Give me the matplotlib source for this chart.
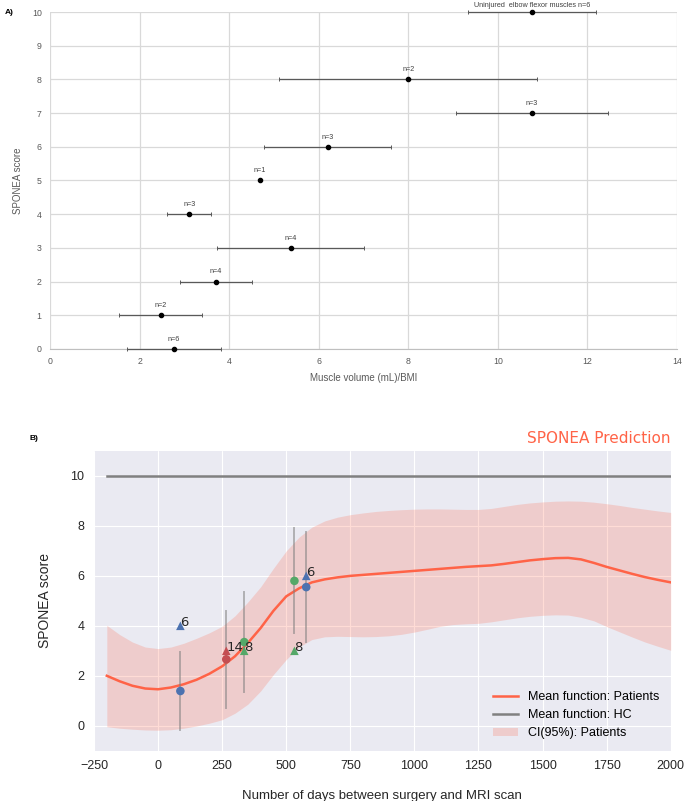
import numpy as np
import matplotlib
matplotlib.use("Agg")
import matplotlib.pyplot as plt
import seaborn as sns
from matplotlib.lines import Line2D
from matplotlib.patches import Patch

# ---- Panel A data: muscle volume / BMI per SPONEA score ----
a_scores = [0, 1, 2, 3, 4, 5, 6, 7, 8, 10]
a_mean = [2.77, 2.48, 3.70, 5.38, 3.11, 4.69, 6.20, 10.76, 8.00, 10.77]
a_low = [1.73, 1.55, 2.90, 3.74, 2.62, 4.69, 4.78, 9.07, 5.12, 9.34]
a_high = [3.81, 3.39, 4.50, 7.02, 3.59, 4.69, 7.62, 12.46, 10.88, 12.19]
a_labels = ["n=6", "n=2", "n=4", "n=4", "n=3", "n=1", "n=3", "n=3", "n=2",
            "Uninjured  elbow flexor muscles n=6"]

# ---- Panel B data: GP prediction ----
days = [-200, -150, -100, -50, 0, 50, 100, 150, 200, 250, 300, 350, 400, 450,
        500, 550, 600, 650, 700, 750, 800, 850, 900, 950, 1000, 1050, 1100,
        1150, 1200, 1250, 1300, 1350, 1400, 1450, 1500, 1550, 1600, 1650,
        1700, 1750, 1800, 1850, 1900, 1950, 2000]
mean_fn = [2.00, 1.78, 1.60, 1.49, 1.46, 1.53, 1.66, 1.84, 2.08, 2.38, 2.78,
           3.31, 3.91, 4.60, 5.18, 5.50, 5.74, 5.86, 5.94, 6.00, 6.04, 6.08,
           6.12, 6.16, 6.20, 6.24, 6.28, 6.32, 6.36, 6.39, 6.42, 6.48, 6.55,
           6.62, 6.67, 6.71, 6.72, 6.66, 6.52, 6.36, 6.22, 6.08, 5.95, 5.84,
           5.74]
ci_upper = [4.02, 3.65, 3.35, 3.15, 3.09, 3.15, 3.30, 3.50, 3.72, 3.98, 4.40,
            4.95, 5.56, 6.30, 7.00, 7.55, 7.95, 8.20, 8.35, 8.45, 8.52, 8.58,
            8.62, 8.65, 8.67, 8.68, 8.68, 8.67, 8.66, 8.66, 8.70, 8.78, 8.86,
            8.92, 8.96, 8.99, 9.00, 8.99, 8.95, 8.89, 8.82, 8.74, 8.67, 8.60,
            8.54]
ci_lower = [-0.04, -0.10, -0.14, -0.17, -0.18, -0.16, -0.10, -0.01, 0.10, 0.24,
            0.50, 0.86, 1.39, 2.05, 2.65, 3.15, 3.45, 3.56, 3.58, 3.57, 3.56,
            3.57, 3.60, 3.66, 3.75, 3.86, 3.98, 4.05, 4.08, 4.10, 4.16, 4.24,
            4.32, 4.38, 4.42, 4.44, 4.43, 4.34, 4.20, 3.97, 3.76, 3.55, 3.35,
            3.18, 3.02]
hc_days = [-200, 2000]
hc_score = [10, 10]

# observed group means (circles) with error bars, and triangles with counts
obs_days = [87, 266, 336, 532, 578]
obs_mean = [1.39, 2.66, 3.35, 5.80, 5.55]
obs_lo = [-0.16, 0.72, 1.34, 3.70, 3.35]
obs_hi = [2.94, 4.60, 5.35, 7.90, 7.75]
obs_color = ["#4C72B0", "#C44E52", "#55A868", "#55A868", "#4C72B0"]
tri_days = [87, 266, 336, 532, 578]
tri_score = [4.0, 3.0, 3.0, 3.0, 6.0]
tri_label = ["6", "14", "8", "8", "6"]
tri_color = ["#4C72B0", "#C44E52", "#55A868", "#55A868", "#4C72B0"]

fig = plt.figure(figsize=(6.85, 8.01), dpi=100)

# ---------------- Panel A ----------------
gray_txt = "#595959"
axA = fig.add_axes([50 / 685, 1 - 349 / 801, 627 / 685, 337 / 801])
axA.set_xlim(0, 14)
axA.set_ylim(0, 10)
axA.set_xticks(range(0, 15, 2))
axA.set_yticks(range(0, 11))
axA.grid(True, color="#d9d9d9", lw=0.9)
axA.set_axisbelow(True)
for s in ["top", "right", "left"]:
    axA.spines[s].set_visible(False)
axA.spines["bottom"].set_color("#bfbfbf")
axA.tick_params(length=0, labelsize=6.3, labelcolor=gray_txt, pad=6)
for lab in axA.get_xticklabels() + axA.get_yticklabels():
    lab.set_family("Liberation Sans")

xerr = [np.array(a_mean) - np.array(a_low), np.array(a_high) - np.array(a_mean)]
axA.errorbar(a_mean, a_scores, xerr=xerr, fmt="o", color="black", ms=3,
             ecolor="#595959", elinewidth=0.9, capsize=1.6, capthick=0.7,
             clip_on=False, zorder=3)
for x, y, t in zip(a_mean, a_scores, a_labels):
    off = 2.2 if y == 10 else 4.5
    axA.annotate(t, (x, y), xytext=(0, off), textcoords="offset points",
                 ha="center", va="bottom", fontsize=5.2, color="#404040",
                 family="Liberation Sans", annotation_clip=False)
axA.set_xlabel("Muscle volume (mL)/BMI", fontsize=7, color=gray_txt,
               family="Liberation Sans", labelpad=5)
axA.set_ylabel("SPONEA score", fontsize=7, color=gray_txt,
               family="Liberation Sans", labelpad=6)
fig.text(5 / 685, 1 - 12 / 801, "A)", fontsize=6, fontweight="bold",
         family="Liberation Sans", va="center")

# ---------------- Panel B ----------------
with sns.axes_style("darkgrid"):
    axB = fig.add_axes([94 / 685, 1 - 750.7 / 801, 576.7 / 685, 299.7 / 801])
axB.set_xlim(-250, 2000)
axB.set_ylim(-1, 11)
axB.set_xticks(range(-250, 2001, 250))
axB.set_yticks(range(0, 11, 2))
axB.tick_params(length=0, labelsize=9, labelcolor="#262626", pad=7)
for lab in axB.get_xticklabels() + axB.get_yticklabels():
    lab.set_family("Liberation Sans")
for s in axB.spines.values():
    s.set_visible(False)

axB.fill_between(days, ci_lower, ci_upper, color="tomato", alpha=0.22, lw=0)
axB.plot(days, mean_fn, color="tomato", lw=1.8)
axB.plot(hc_days, hc_score, color="#808080", lw=1.8)

for x, m, lo, hi, c in zip(obs_days, obs_mean, obs_lo, obs_hi, obs_color):
    axB.plot([x, x], [lo, hi], color="gray", alpha=0.55, lw=1.4, zorder=3)
    axB.scatter([x], [m], s=38, color=c, zorder=4, edgecolors="none")
for x, y, t, c in zip(tri_days, tri_score, tri_label, tri_color):
    axB.scatter([x], [y], marker="^", s=38, color=c, zorder=4,
                edgecolors="none")
    axB.text(x, y, t, fontsize=9.5, color="#262626", zorder=5)

axB.set_title("SPONEA Prediction", loc="right", color="tomato", fontsize=11,
              pad=6)
axB.set_xlabel("Number of days between surgery and MRI scan", fontsize=9.5,
               family="Liberation Sans", labelpad=13, color="#262626")
axB.set_ylabel("SPONEA score", fontsize=10, family="Liberation Sans",
               labelpad=13, color="#262626")

handles = [Line2D([], [], color="tomato", lw=1.8),
           Line2D([], [], color="#808080", lw=1.8),
           Patch(facecolor="tomato", alpha=0.22, lw=0)]
axB.legend(handles, ["Mean function: Patients", "Mean function: HC",
                     "CI(95%): Patients"], loc="lower right", frameon=False,
           prop={"family": "Liberation Sans", "size": 9})
fig.text(30 / 685, 1 - 439 / 801, "B)", fontsize=6, fontweight="bold",
         family="Liberation Sans", va="center")

fig.savefig("out.png", dpi=100)
